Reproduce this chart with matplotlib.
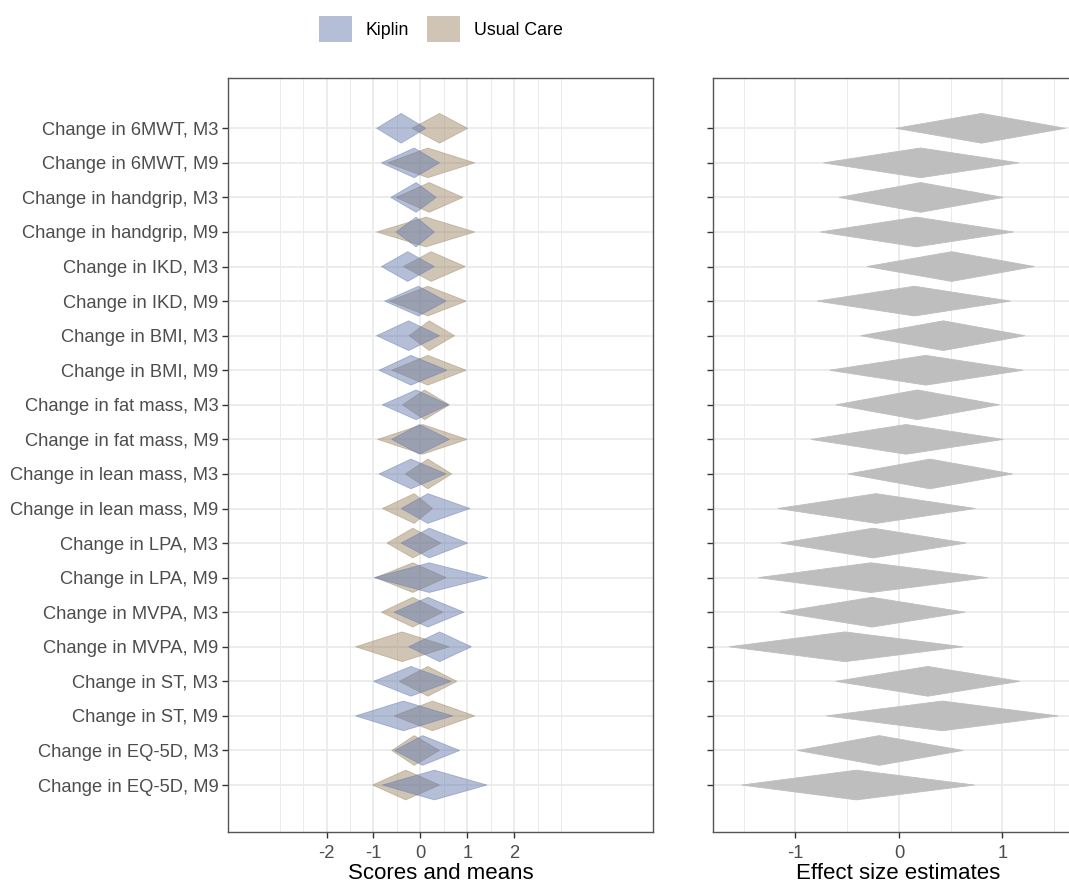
import matplotlib
matplotlib.use("Agg")
import matplotlib.pyplot as plt
from matplotlib.patches import Polygon, Patch
import numpy as np

plt.rcParams['font.family'] = ['Liberation Sans', 'DejaVu Sans']

labels = ["Change in 6MWT, M3", "Change in 6MWT, M9",
          "Change in handgrip, M3", "Change in handgrip, M9",
          "Change in IKD, M3", "Change in IKD, M9",
          "Change in BMI, M3", "Change in BMI, M9",
          "Change in fat mass, M3", "Change in fat mass, M9",
          "Change in lean mass, M3", "Change in lean mass, M9",
          "Change in LPA, M3", "Change in LPA, M9",
          "Change in MVPA, M3", "Change in MVPA, M9",
          "Change in ST, M3", "Change in ST, M9",
          "Change in EQ-5D, M3", "Change in EQ-5D, M9"]

# Kiplin group: lower, mean, upper
kiplin_lo = [-0.93, -0.83, -0.63, -0.52, -0.83, -0.76, -0.93, -0.88, -0.81, -0.61,
             -0.88, -0.41, -0.41, -0.99, -0.56, -0.25, -1.00, -1.38, -0.55, -0.81]
kiplin_mean = [-0.41, -0.13, -0.09, -0.09, -0.27, -0.04, -0.25, -0.20, -0.09, -0.02,
               -0.20, 0.16, 0.19, 0.19, 0.16, 0.41, -0.20, -0.36, 0.05, 0.30]
kiplin_hi = [0.12, 0.41, 0.34, 0.30, 0.30, 0.55, 0.41, 0.57, 0.60, 0.62,
             0.55, 1.06, 1.01, 1.44, 0.93, 1.09, 0.66, 0.69, 0.84, 1.42]

# Usual care group: lower, mean, upper
uc_lo = [-0.18, -0.70, -0.52, -0.93, -0.36, -0.66, -0.24, -0.61, -0.38, -0.91,
         -0.32, -0.81, -0.71, -0.95, -0.83, -1.38, -0.45, -0.56, -0.61, -1.02]
uc_mean = [0.41, 0.16, 0.19, 0.12, 0.23, 0.16, 0.19, 0.16, 0.09, 0.05,
           0.16, -0.13, -0.16, -0.16, -0.16, -0.39, 0.16, 0.26, -0.13, -0.31]
uc_hi = [1.01, 1.16, 0.91, 1.16, 0.96, 0.98, 0.73, 0.98, 0.62, 1.00,
         0.67, 0.26, 0.44, 0.55, 0.48, 0.62, 0.78, 1.16, 0.41, 0.41]

# Effect size estimates: lower, estimate, upper
es_lo = [-0.03, -0.73, -0.58, -0.76, -0.31, -0.79, -0.37, -0.67, -0.61, -0.85,
         -0.49, -1.17, -1.14, -1.36, -1.15, -1.64, -0.61, -0.70, -0.98, -1.52]
es_mean = [0.80, 0.21, 0.21, 0.17, 0.51, 0.15, 0.43, 0.26, 0.18, 0.07,
           0.30, -0.22, -0.25, -0.27, -0.26, -0.52, 0.28, 0.42, -0.19, -0.41]
es_hi = [1.61, 1.16, 1.01, 1.11, 1.31, 1.08, 1.22, 1.20, 0.97, 1.01,
         1.10, 0.74, 0.65, 0.86, 0.64, 0.62, 1.17, 1.54, 0.62, 0.73]

left_ticks = [-2, -1, 0, 1, 2]
right_ticks = [-1, 0, 1]

kiplin_color = "#6278ad"
uc_color = "#9e8763"
es_color = "#bebebe"
alpha = 0.48
half_h = 0.43

W, H = 1069, 883
fig = plt.figure(figsize=(W / 100, H / 100), dpi=100)

ax1 = fig.add_axes([228 / W, 51 / H, 425 / W, 754 / H])
ax2 = fig.add_axes([713 / W, 51 / H, 370 / W, 754 / H])

n = len(labels)
ypos = np.arange(n, 0, -1)

def diamond(ax, lo, m, hi, y, color, a):
    pts = [(lo, y), (m, y + half_h), (hi, y), (m, y - half_h)]
    ax.add_patch(Polygon(pts, closed=True, facecolor=color, edgecolor=color,
                         alpha=a, lw=0.6, zorder=3))

grid_c = "#ebebeb"
for ax in (ax1, ax2):
    for y in ypos:
        ax.axhline(y, color=grid_c, lw=1.3, zorder=0)

for v in np.arange(-3, 3.01, 0.5):
    major = float(v).is_integer() and abs(v) <= 2
    ax1.axvline(v, color=grid_c, lw=1.3 if major else 0.7, zorder=0)
for v in np.arange(-2, 2.01, 0.5):
    major = float(v).is_integer() and abs(v) <= 1
    ax2.axvline(v, color=grid_c, lw=1.3 if major else 0.7, zorder=0)

for i in range(n):
    diamond(ax1, uc_lo[i], uc_mean[i], uc_hi[i], ypos[i], uc_color, alpha)
    diamond(ax1, kiplin_lo[i], kiplin_mean[i], kiplin_hi[i], ypos[i], kiplin_color, alpha)
    diamond(ax2, es_lo[i], es_mean[i], es_hi[i], ypos[i], es_color, 1.0)

ax1.set_xlim(-4.1, 4.96)
ax2.set_xlim(-1.797, 1.78)
for ax in (ax1, ax2):
    ax.set_ylim(-0.359, 21.455)
    ax.set_yticks(ypos)
    for s in ax.spines.values():
        s.set_color("#555555")
        s.set_linewidth(1.0)
    ax.tick_params(axis='both', length=4, width=1.0, color="#333333",
                   labelsize=13.2, labelcolor="#4d4d4d")
    ax.tick_params(axis='x', pad=5)
    ax.tick_params(axis='y', pad=3)

ax1.set_yticklabels(labels)
ax2.set_yticklabels([])
ax1.set_xticks(left_ticks)
ax1.set_xticklabels([str(t) for t in left_ticks])
ax2.set_xticks(right_ticks)
ax2.set_xticklabels([str(t) for t in right_ticks])

ax1.set_xlabel("Scores and means", fontsize=16, color="black", labelpad=1)
ax2.set_xlabel("Effect size estimates", fontsize=16, color="black", labelpad=1)

handles = [Patch(facecolor=kiplin_color, alpha=alpha, edgecolor='none', label="Kiplin"),
           Patch(facecolor=uc_color, alpha=alpha, edgecolor='none', label="Usual Care")]
fig.legend(handles=handles, loc='center', bbox_to_anchor=(441 / W, 1 - 29 / H),
           ncol=2, frameon=False, fontsize=12.8, handlelength=1.85, handleheight=1.85,
           handletextpad=0.8, columnspacing=1.0)

fig.savefig("out.png", dpi=100)
